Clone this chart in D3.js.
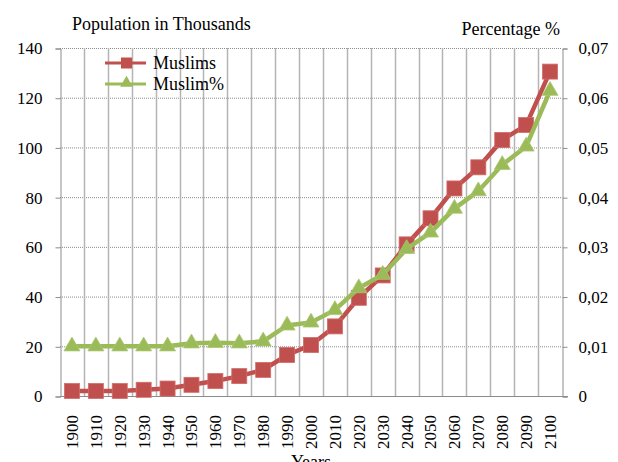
<!DOCTYPE html>
<html>
<head>
<meta charset="utf-8">
<script src="https://cdn.jsdelivr.net/npm/d3@7"></script>
<style>
  body { margin: 0; background: #fff; }
  text { font-family: "Liberation Serif", "Times New Roman", serif; fill: #000; }
</style>
</head>
<body>
<div id="chart"></div>
<script>
// chart data
const years = ["1900", "1910", "1920", "1930", "1940", "1950", "1960", "1970", "1980", "1990",
    "2000", "2010", "2020", "2030", "2040", "2050", "2060", "2070", "2080", "2090", "2100"];
const muslims = [2, 2, 2, 2.5, 3, 4.5, 6, 8, 10.5, 16.5, 20.5, 28, 39.5, 48.5, 61, 71.5, 83.5, 92, 103, 109, 130.5];
const muslimPct = [0.0100, 0.0100, 0.0100, 0.0100, 0.0100, 0.0106, 0.0107, 0.0106, 0.0110, 0.0142, 0.0148,
    0.0173, 0.0217, 0.0244, 0.0296, 0.0329, 0.0377, 0.0412, 0.0465, 0.0502, 0.0614];
const leftTicks = [0, 20, 40, 60, 80, 100, 120, 140];
const rightTicks = [0, 0.01, 0.02, 0.03, 0.04, 0.05, 0.06, 0.07];

const width = 618, height = 462;
const margin = {top: 48, right: 56, bottom: 66, left: 60};
const red = "#c0504d", green = "#9bbb59";

const svg = d3.select("#chart")
    .append("svg")
    .attr("width", width)
    .attr("height", height);

const x = d3.scaleBand()
    .domain(years)
    .range([margin.left, width - margin.right]);
const yLeft = d3.scaleLinear()
    .domain([0, 140])
    .range([height - margin.bottom, margin.top]);
const yRight = d3.scaleLinear()
    .domain([0, 0.07])
    .range([height - margin.bottom, margin.top]);

const x0 = margin.left, x1 = width - margin.right;
const yBottom = height - margin.bottom;

// horizontal dotted gridlines
svg.append("g")
    .selectAll("line")
    .data(leftTicks.slice(1))
    .enter().append("line")
    .attr("x1", x0).attr("x2", x1)
    .attr("y1", d => yLeft(d) + 0.5).attr("y2", d => yLeft(d) + 0.5)
    .style("stroke", "#8c8c8c")
    .style("stroke-width", 1)
    .style("stroke-dasharray", "1,1");

// vertical gridlines at category boundaries
svg.append("g")
    .selectAll("line")
    .data(years.slice(1))
    .enter().append("line")
    .attr("x1", d => Math.round(x(d)) + 0.5).attr("x2", d => Math.round(x(d)) + 0.5)
    .attr("y1", margin.top).attr("y2", yBottom)
    .style("stroke", "#b4b4b4")
    .style("stroke-width", 1.5);

// left axis
const leftAxis = svg.append("g")
    .attr("transform", "translate(" + (x0 + 0.5) + ",0.5)")
    .call(d3.axisLeft(yLeft).tickValues(leftTicks).tickSize(5).tickPadding(13));
leftAxis.selectAll("text").style("font-size", "17px")
    .style("font-family", "Liberation Serif, serif");

// right axis
const rightAxis = svg.append("g")
    .attr("transform", "translate(" + (x1 + 0.5) + ",0.5)")
    .call(d3.axisRight(yRight).tickValues(rightTicks).tickSize(5).tickPadding(11)
        .tickFormat(d => d === 0 ? "0" : d3.format(".2f")(d).replace(".", ",")));
rightAxis.selectAll("text").style("font-size", "17px")
    .style("font-family", "Liberation Serif, serif");

svg.selectAll(".domain, .tick line").style("stroke", "#8c8c8c");

// bottom axis line
svg.append("line")
    .attr("x1", x0).attr("x2", x1 + 6)
    .attr("y1", yBottom + 0.5).attr("y2", yBottom + 0.5)
    .style("stroke", "#8c8c8c");

// rotated year labels
svg.append("g")
    .selectAll("text")
    .data(years)
    .enter().append("text")
    .attr("transform", d => "translate(" + (x(d) + x.bandwidth() / 2) + "," + (yBottom + 19) + ") rotate(-90)")
    .attr("dy", "0.35em")
    .style("text-anchor", "end")
    .style("font-size", "17px")
    .text(d => d);

// titles
svg.append("text").attr("x", 72).attr("y", 30)
    .style("font-size", "18px").text("Population in Thousands");
svg.append("text").attr("x", 560).attr("y", 35)
    .style("font-size", "18px").style("text-anchor", "end").text("Percentage %");
svg.append("text").attr("x", 311).attr("y", 468)
    .style("font-size", "18px").style("text-anchor", "middle").text("Years");

const cx = (d, i) => x(years[i]) + x.bandwidth() / 2;

// Muslims series (left axis)
svg.append("path")
    .datum(muslims)
    .attr("d", d3.line().x(cx).y(d => yLeft(d)))
    .style("fill", "none")
    .style("stroke", red)
    .style("stroke-width", 4.5);
svg.append("g")
    .selectAll("rect")
    .data(muslims)
    .enter().append("rect")
    .attr("x", (d, i) => cx(d, i) - 7.5)
    .attr("y", d => yLeft(d) - 7.5)
    .attr("width", 15).attr("height", 15)
    .style("fill", red)
    .style("stroke", "#d26b68")
    .style("stroke-width", 0.8);

// Muslim % series (right axis)
svg.append("path")
    .datum(muslimPct)
    .attr("d", d3.line().x(cx).y(d => yRight(d)))
    .style("fill", "none")
    .style("stroke", green)
    .style("stroke-width", 4.5);
const tri = d3.symbol().type(d3.symbolTriangle).size(110);
svg.append("g")
    .selectAll("path")
    .data(muslimPct)
    .enter().append("path")
    .attr("d", tri)
    .attr("transform", (d, i) => "translate(" + cx(d, i) + "," + yRight(d) + ")")
    .style("fill", green)
    .style("stroke", "#aac771")
    .style("stroke-width", 0.8);

// legend
const legend = svg.append("g").attr("transform", "translate(105,63)");
legend.append("line").attr("x1", 0).attr("x2", 41).attr("y1", 0).attr("y2", 0)
    .style("stroke", red).style("stroke-width", 3);
legend.append("rect").attr("x", 16).attr("y", -5.5).attr("width", 11).attr("height", 11)
    .style("fill", red);
legend.append("text").attr("x", 48).attr("y", 6).style("font-size", "18px").text("Muslims");
legend.append("line").attr("x1", 0).attr("x2", 41).attr("y1", 21).attr("y2", 21)
    .style("stroke", green).style("stroke-width", 3);
legend.append("path").attr("d", d3.symbol().type(d3.symbolTriangle).size(70))
    .attr("transform", "translate(21.5,20)")
    .style("fill", green);
legend.append("text").attr("x", 48).attr("y", 27).style("font-size", "18px").text("Muslim%");
</script>
</body>
</html>
